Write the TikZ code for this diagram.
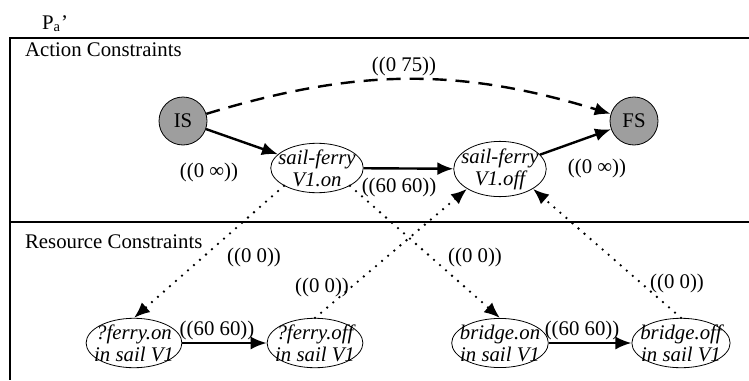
\documentclass[tikz,border=0pt]{standalone}
\usepackage{amsmath}
\usepackage{fontspec}
\setmainfont{Liberation Serif}
\usetikzlibrary{arrows.meta,shapes.geometric}
\begin{document}
\begin{tikzpicture}[x=0.5pt,y=-0.5pt,font=\fontsize{10.4}{11}\selectfont,
    state/.style={circle,draw,fill=black!38,minimum size=24pt,inner sep=0pt},
    act/.style={ellipse,draw,align=center,font=\fontsize{10.4}{11}\selectfont\itshape,
      inner xsep=-3pt,inner ysep=-0.5pt,minimum width=46pt,minimum height=24pt},
    link/.style={-{Latex[length=8pt,width=6.5pt]},line width=1.2pt},
    dots/.style={-{Latex[length=8pt,width=6.5pt]},line width=1.3pt,line cap=round,
      dash pattern=on 0pt off 4pt}]
  \useasboundingbox (0,0) rectangle (749,380);
  \draw[line width=0.6pt] (749,38) -- (10,38) -- (10,380);
  \draw[line width=0.6pt] (10,222) -- (749,222);
  \node[anchor=base west] (title) at (35,29) {P$_{\text{a}}$’};
  \node[anchor=base west] (actc) at (18,56) {Action Constraints};
  \node[anchor=base west] (resc) at (18,248) {Resource Constraints};
  % action nodes
  \node[state] (IS) at (183,121) {IS};
  \node[state] (FS) at (634,121) {FS};
  \node[act] (sfon) at (317,168) {sail-ferry\\V1.on};
  \node[act] (sfoff) at (500,169) {sail-ferry\\V1.off};
  % resource nodes
  \node[act] (fon) at (134,343) {?ferry.on\\in sail V1};
  \node[act] (foff) at (315,343) {?ferry.off\\in sail V1};
  \node[act] (bon) at (500,343) {bridge.on\\in sail V1};
  \node[act] (boff) at (681,343) {bridge.off\\in sail V1};
  \draw[link,dash pattern=on 7pt off 4.5pt] (IS) to[bend left=17] (FS);
  \draw[link] (IS) -- (sfon);
  \draw[link] (sfon) -- (sfoff);
  \draw[link] (sfoff) -- (FS);
  \draw[link] (fon) -- (foff);
  \draw[link] (bon) -- (boff);
  \draw[dots] (sfon.south west) -- (fon.north);
  \draw[dots] (foff.north) -- (sfoff.south west);
  \draw[dots] (sfon.south east) -- (bon.north);
  \draw[dots] (boff.north) -- (sfoff.south east);
  % labels
  \node (l75) at (404,66) {((0 75))};
  \node (linf1) at (209,172) {((0 ∞))};
  \node (l60a) at (399,187) {((60 60))};
  \node (linf2) at (597,168) {((0 ∞))};
  \node (l60b) at (217,330) {((60 60))};
  \node (l60c) at (582,330) {((60 60))};
  \foreach \px/\py [count=\i] in {254/257,322/287,475/257,677/283}
    \node (l0\i) at (\px,\py) {((0 0))};
\end{tikzpicture}
\end{document}
